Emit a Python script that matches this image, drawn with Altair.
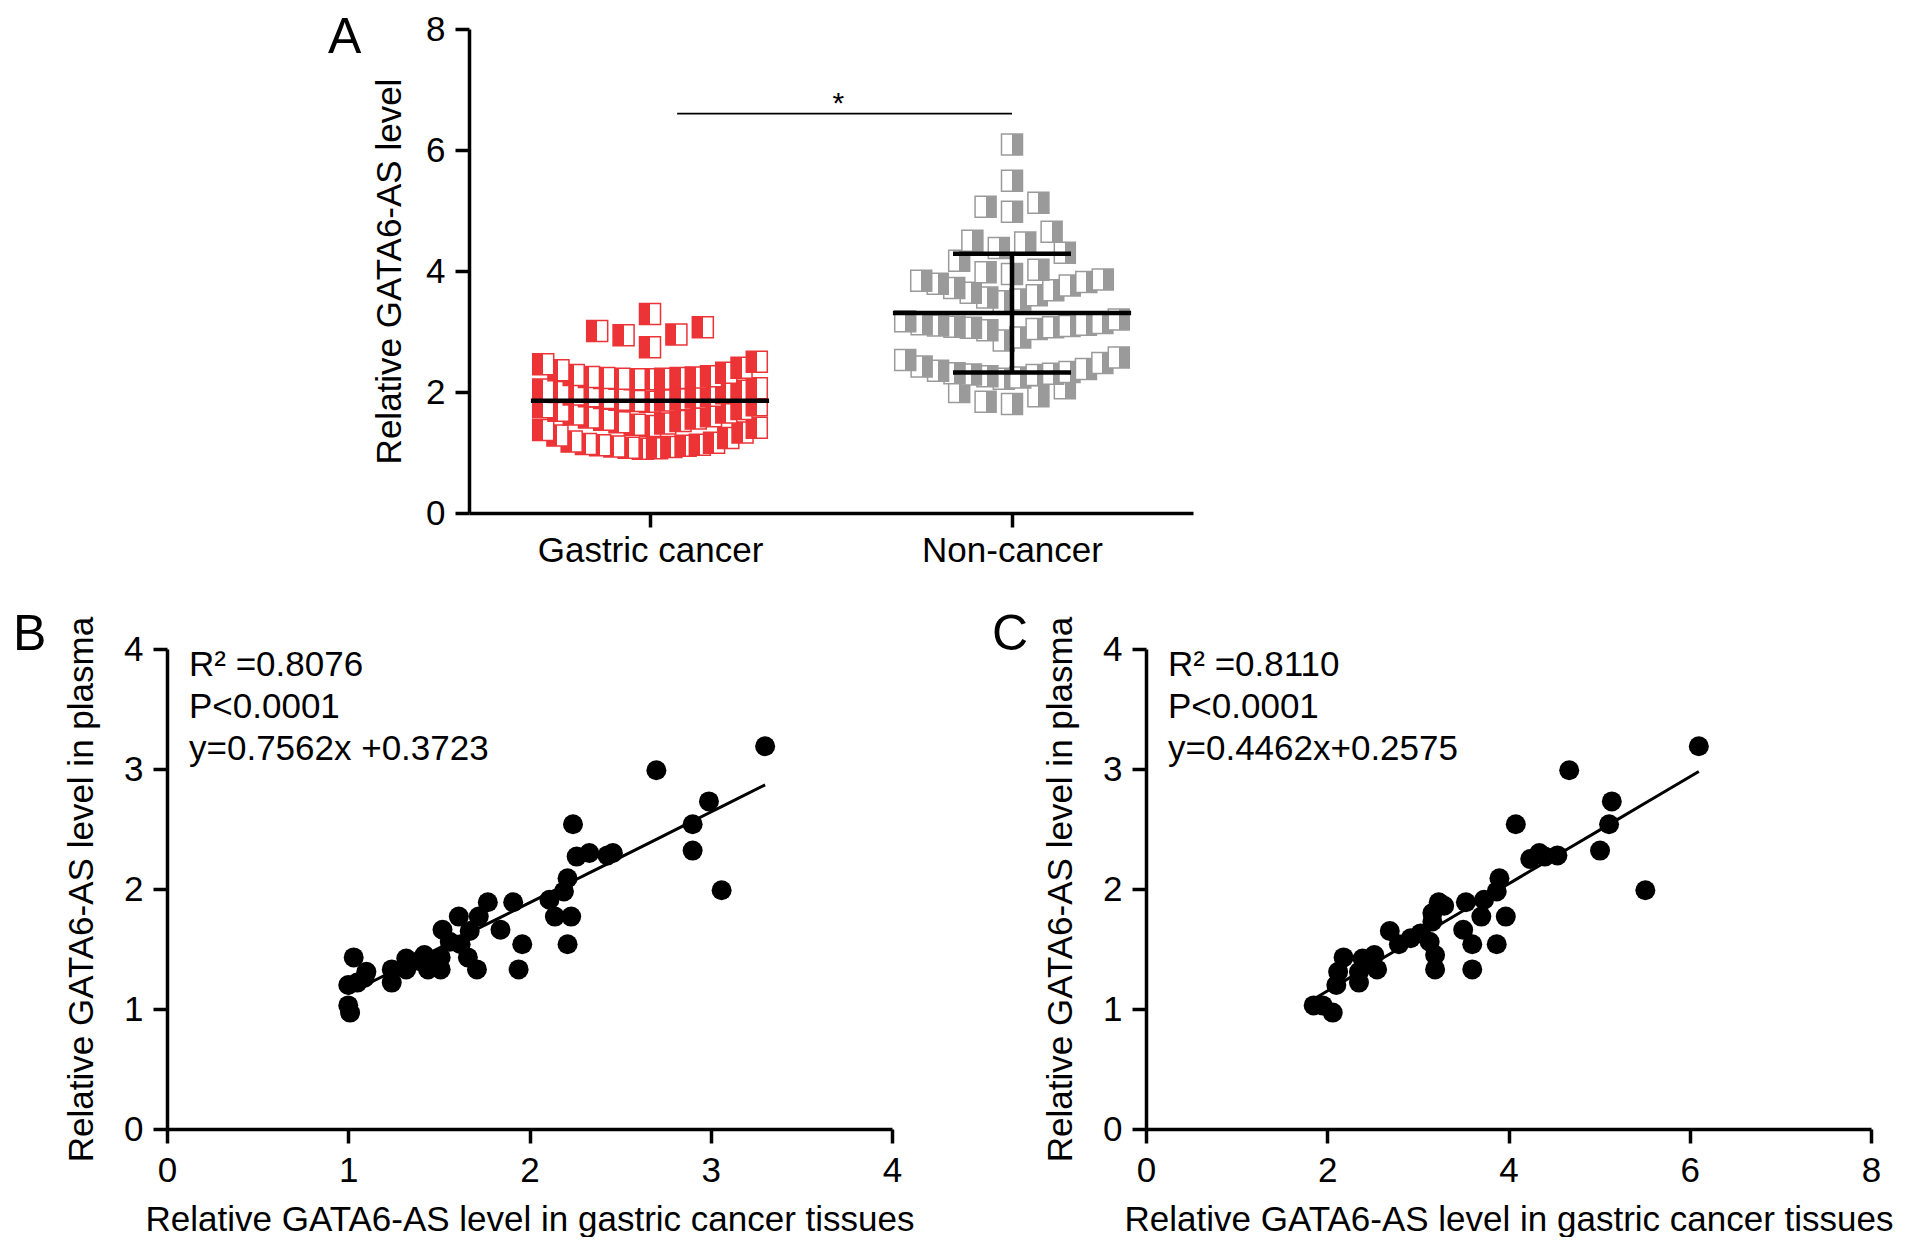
import altair as alt
import pandas as pd

FONT = "Liberation Sans"
RED = "#ec3336"
GRAY = "#9a9a9a"

# ---- panel A: relative GATA6-AS level per sample ----
gastric = [1.06, 1.07, 1.08, 1.09, 1.10, 1.11, 1.12, 1.13, 1.14, 1.16, 1.18, 1.24, 1.28, 1.33, 1.37, 1.41,
           1.44, 1.46, 1.48, 1.50, 1.52, 1.54, 1.56, 1.58, 1.60, 1.63, 1.66, 1.69, 1.72, 1.75, 1.78,
           1.84, 1.85, 1.86, 1.87, 1.88, 1.90, 1.91, 1.93, 1.94, 1.96, 1.98, 2.00, 2.02, 2.04, 2.06,
           2.21, 2.21, 2.22, 2.22, 2.23, 2.23, 2.24, 2.25, 2.26, 2.28, 2.32, 2.36, 2.40, 2.46, 2.50,
           2.74, 2.94, 2.95, 3.01, 3.07, 3.29]
non_cancer = [1.80, 1.84, 1.93, 2.00, 2.06,
              2.22, 2.24, 2.26, 2.28, 2.29, 2.30, 2.31, 2.33, 2.35, 2.38, 2.42, 2.48, 2.53, 2.57,
              2.85, 2.90, 3.02, 3.04, 3.06, 3.07, 3.08, 3.09, 3.10, 3.11, 3.12, 3.14, 3.17, 3.20,
              3.50, 3.53, 3.56, 3.60, 3.64, 3.68, 3.72, 3.76, 3.79, 3.82, 3.84, 3.86,
              3.95, 3.98, 4.02, 4.17, 4.30,
              4.38, 4.47, 4.50, 4.65,
              4.98, 5.06, 5.13, 5.49, 6.09]
groups = ["Gastric cancer", "Non-cancer"]

# ---- panels B and C: tissue vs plasma level ----
b_tissue = [3.30, 2.70, 2.99, 2.90, 2.90, 3.06, 2.24, 2.26, 2.33, 2.43, 2.46, 2.21, 2.19, 2.11, 2.14, 2.23,
            2.21, 1.91, 1.96, 1.94, 1.84, 1.77, 1.72, 1.67, 1.71, 1.61, 1.62, 1.66, 1.52, 1.56, 1.51, 1.51,
            1.42, 1.44, 1.39, 1.32, 1.32, 1.24, 1.24, 1.10, 1.05, 1.03, 1.00, 1.00, 1.01, 1.09]
b_plasma = [3.19, 2.99, 2.73, 2.54, 2.32, 1.99, 2.54, 2.27, 2.30, 2.28, 2.30, 2.09, 1.98, 1.91, 1.77, 1.77,
            1.54, 1.89, 1.54, 1.33, 1.66, 1.89, 1.77, 1.65, 1.33, 1.77, 1.54, 1.43, 1.66, 1.56, 1.43, 1.33,
            1.45, 1.33, 1.40, 1.42, 1.33, 1.33, 1.22, 1.31, 1.22, 1.43, 1.20, 1.03, 0.97, 1.26]
c_tissue = [6.10, 4.67, 5.14, 5.11, 5.01, 5.51, 4.08, 4.24, 4.34, 4.54, 4.40, 3.90, 3.87, 3.73, 3.97, 3.70,
            3.87, 3.53, 3.60, 3.60, 3.50, 3.23, 3.29, 3.16, 3.19, 3.16, 3.19, 3.13, 2.92, 3.03, 2.79, 2.69,
            2.52, 2.45, 2.39, 2.55, 2.35, 2.18, 2.35, 2.10, 2.12, 1.85, 2.06, 1.95]
c_plasma = [3.19, 2.99, 2.73, 2.54, 2.32, 1.99, 2.54, 2.25, 2.30, 2.28, 2.27, 2.09, 1.98, 1.91, 1.77, 1.77,
            1.54, 1.89, 1.54, 1.33, 1.66, 1.89, 1.86, 1.73, 1.33, 1.80, 1.45, 1.56, 1.59, 1.63, 1.54, 1.65,
            1.45, 1.38, 1.42, 1.33, 1.31, 1.43, 1.22, 1.20, 1.31, 1.03, 0.97, 1.03]
b_fit = (0.7562, 0.3723)
c_fit = (0.4462, 0.2575)
b_notes = ["R\u00b2 =0.8076", "P<0.0001", "y=0.7562x +0.3723"]
c_notes = ["R\u00b2 =0.8110", "P<0.0001", "y=0.4462x+0.2575"]

# layout constants (data units of panel A's x scale)
ROW_H = 0.36       # height of one swarm row
DOT_STEP = 0.0456  # horizontal step between neighbouring squares
SPARSE = 1.6       # rows of five or fewer squares are spread wider
ROW_SPAN = 0.59    # widest a swarm row may get (centre to centre)
MEAN_HALF = 0.329
CAP_HALF = 0.163


def swarm(values):
    """Prism-like scatter dot layout: rows of close values, lowest value in the middle."""
    vals = sorted(values)
    rows, cur = [], [vals[0]]
    for v in vals[1:]:
        if v - cur[0] <= ROW_H + 1e-9:
            cur.append(v)
        else:
            rows.append(cur)
            cur = [v]
    rows.append(cur)
    out = []
    for row in rows:
        n = len(row)
        if n < 2:
            step = 0
        elif n <= 5:
            step = DOT_STEP * SPARSE
        else:
            step = min(DOT_STEP, ROW_SPAN / (n - 1))
        slots = sorted([i - (n - 1) / 2 for i in range(n)], key=lambda s: (abs(s), s))
        out += [(v, s * step) for v, s in zip(row, slots)]
    return out


recs = []
for gx, (name, vals) in enumerate(zip(groups, [gastric, non_cancer]), start=1):
    for v, off in swarm(vals):
        recs.append({"group": name, "gx": gx, "level": v, "xpos": gx + off})
df_a = pd.DataFrame(recs)


def half_fill(color, left):
    a, b = (color, "white") if left else ("white", color)
    return alt.LinearGradient(
        gradient="linear", x1=0, x2=1, y1=0, y2=0,
        stops=[alt.GradientStop(offset=0, color=a), alt.GradientStop(offset=0.5, color=a),
               alt.GradientStop(offset=0.5, color=b), alt.GradientStop(offset=1, color=b)],
    )


# every layer of a panel gets the same scale and axis, so the shared axis survives the merge
xA_scale = alt.Scale(domain=[0.5, 2.5], nice=False, zero=False)
yA_scale = alt.Scale(domain=[0, 8], nice=False)
xA_axis = alt.Axis(values=[1, 2], title=None, labelLimit=0, labelPadding=6,
                   labelExpr="datum.value == 1 ? 'Gastric cancer' : 'Non-cancer'")
yA_axis = alt.Axis(values=[0, 2, 4, 6, 8], title="Relative GATA6-AS level", titlePadding=18)


def xa(field):
    return alt.X(field, type="quantitative", scale=xA_scale, axis=xA_axis)


def ya(field):
    return alt.Y(field, type="quantitative", scale=yA_scale, axis=yA_axis)


base_a = alt.Chart(df_a)
pts_g = base_a.transform_filter("datum.gx == 1").mark_point(
    shape="square", size=441, filled=True, fill=half_fill(RED, True), stroke=RED, strokeWidth=1.5, opacity=1
).encode(x=xa("xpos"), y=ya("level"))
pts_n = base_a.transform_filter("datum.gx == 2").mark_point(
    shape="square", size=441, filled=True, fill=half_fill(GRAY, False), stroke=GRAY, strokeWidth=1.5, opacity=1
).encode(x=xa("xpos"), y=ya("level"))

stats = base_a.transform_aggregate(
    mean="mean(level)", sd="stdev(level)", groupby=["gx"]
).transform_calculate(
    lo="datum.mean - datum.sd", hi="datum.mean + datum.sd",
    m1=f"datum.gx - {MEAN_HALF}", m2=f"datum.gx + {MEAN_HALF}",
    c1=f"datum.gx - {CAP_HALF}", c2=f"datum.gx + {CAP_HALF}",
)
mean_rule = stats.mark_rule(color="black", strokeWidth=4.5).encode(
    x=xa("m1"), x2="m2:Q", y=ya("mean"))
sd_stats = stats.transform_filter("datum.gx == 2")
sd_bar = sd_stats.mark_rule(color="black", strokeWidth=4.5).encode(
    x=xa("gx"), y=ya("lo"), y2="hi:Q")
cap_lo = sd_stats.mark_rule(color="black", strokeWidth=4.5).encode(
    x=xa("c1"), x2="c2:Q", y=ya("lo"))
cap_hi = sd_stats.mark_rule(color="black", strokeWidth=4.5).encode(
    x=xa("c1"), x2="c2:Q", y=ya("hi"))

# significance bracket
sig = pd.DataFrame({"x1": [1.075], "x2": [2.0], "xm": [1.52], "y": [6.6], "mark": ["*"]})
sig_line = alt.Chart(sig).mark_rule(color="black", strokeWidth=1.8).encode(
    x=xa("x1"), x2="x2:Q", y=ya("y"))
sig_star = alt.Chart(sig).mark_text(font=FONT, fontSize=30, baseline="alphabetic", dy=-1).encode(
    x=xa("xm"), y=ya("y"), text="mark:N")


def letter(t, dx, dy):
    return alt.Chart(pd.DataFrame({"t": [t]})).mark_text(
        font=FONT, fontSize=50, align="left", baseline="alphabetic"
    ).encode(x=alt.value(dx), y=alt.value(dy), text="t:N")


panel_a = alt.layer(pts_g, pts_n, mean_rule, sd_bar, cap_lo, cap_hi, sig_line, sig_star,
                    letter("A", -141, 24)).properties(width=724, height=484)

X_TITLE = "Relative GATA6-AS level in gastric cancer tissues"
Y_TITLE = "Relative GATA6-AS level in plasma"


def scatter_panel(tissue, plasma, fit, notes, xmax, xticks, tag):
    df = pd.DataFrame({"tissue": tissue, "plasma": plasma})
    xs = alt.Scale(domain=[0, xmax], nice=False)
    ys = alt.Scale(domain=[0, 4], nice=False)
    xax = alt.Axis(values=xticks, title=X_TITLE, titlePadding=14)
    yax = alt.Axis(values=[0, 1, 2, 3, 4], title=Y_TITLE, titlePadding=24)
    base = alt.Chart(df)
    dots = base.mark_circle(size=400, color="black", opacity=1).encode(
        x=alt.X("tissue:Q", scale=xs, axis=xax, title=X_TITLE),
        y=alt.Y("plasma:Q", scale=ys, axis=yax, title=Y_TITLE),
    )
    line = base.transform_calculate(fit=f"{fit[0]} * datum.tissue + {fit[1]}").mark_line(
        color="black", strokeWidth=3
    ).encode(
        x=alt.X("tissue:Q", scale=xs, axis=xax, title=X_TITLE),
        y=alt.Y("fit:Q", scale=ys, axis=yax, title=Y_TITLE),
    )
    note = alt.Chart(pd.DataFrame({"k": [0]})).mark_text(
        font=FONT, fontSize=35, align="left", baseline="alphabetic", lineHeight=42, text=notes
    ).encode(x=alt.value(22), y=alt.value(27))
    return alt.layer(line, dots, note, letter(tag, -154, 1)).properties(width=725, height=480)


panel_b = scatter_panel(b_tissue, b_plasma, b_fit, b_notes, 4, [0, 1, 2, 3, 4], "B")
panel_c = scatter_panel(c_tissue, c_plasma, c_fit, c_notes, 8, [0, 2, 4, 6, 8], "C")

# empty view that pushes panel A to the right
spacer = alt.Chart(pd.DataFrame({"v": [0]})).mark_point(opacity=0).encode(
    x=alt.X("v:Q", axis=None), y=alt.Y("v:Q", axis=None)).properties(width=161, height=10)

chart = alt.vconcat(
    alt.hconcat(spacer, panel_a, spacing=0),
    alt.hconcat(panel_b, panel_c, spacing=78),
    spacing=42,
).properties(
    padding={"left": 5, "top": 4, "right": 0, "bottom": 0}
).configure_axis(
    domainColor="black", domainWidth=3.5, tickColor="black", tickWidth=3.5, tickSize=14,
    labelPadding=10, labelFont=FONT, labelFontSize=35, labelColor="black", labelFlush=False,
    titleFont=FONT, titleFontSize=35, titleFontWeight="normal", titleColor="black",
    grid=False,
).configure_view(stroke=None).configure_text(color="black")

chart.save("out.html", embed_options={"renderer": "svg", "actions": False})
